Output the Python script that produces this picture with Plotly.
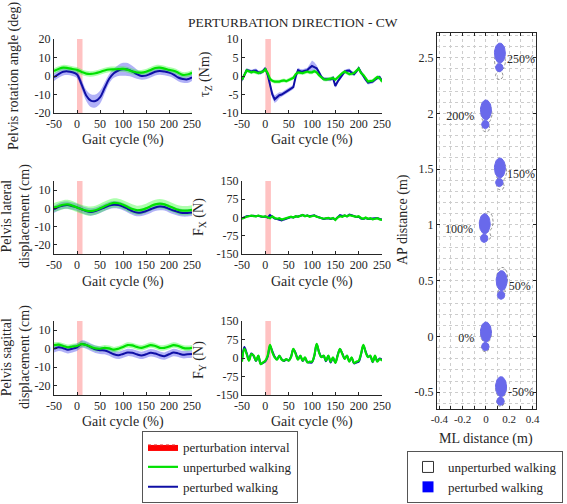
import numpy as np
import plotly.graph_objects as go

# ---------------- data ----------------
gait10 = list(range(-50, 251, 10))
gait5 = list(range(-50, 251, 5))
perturbation_interval = [0, 12]

# Pelvis rotation angle (deg)
rot_unp = [2.7, 3.8, 4.5, 4.3, 3.8, 3.3, 2.2, 1.3, 1.1, 1.5, 2.2, 3.0, 3.5, 3.6, 3.7, 3.8,
           3.3, 2.5, 1.9, 1.8, 2.3, 3.3, 4.3, 4.5, 4.0, 3.3, 2.8, 1.8, 0.6, 0.8, 1.8]
rot_unp_sd = 1.5
rot_pert = [-0.7, 1.0, 2.3, 2.5, 2.0, 0.8, -4.5, -10.5, -13.3, -13.5, -11.5, -6.5, -1.5, 1.5,
            3.0, 3.6, 3.5, 2.5, 1.0, 0.0, 0.2, 1.2, 2.3, 2.7, 2.4, 1.8, 0.8, -0.8, -1.6, -1.8, -0.7]
rot_pert_sd = [2, 2, 2, 2, 2, 2, 2.5, 3, 3.5, 3.5, 3.5, 3, 2.5, 2.5, 3, 3.5, 3.5, 3, 2.5,
               2, 2, 2, 2, 2, 2, 2, 2, 2, 2, 2, 2]

# Pelvis lateral displacement (cm)
lat_unp = [0.5, 1.2, 2.0, 2.2, 1.5, 0.5, -0.5, -1.2, -1.5, -1.0, 0.0, 1.2, 2.3, 3.0, 2.8, 2.0,
           0.8, -0.3, -1.0, -0.8, 0.0, 1.2, 2.2, 2.6, 2.2, 1.2, 0.2, -0.8, -1.2, -1.2, -0.8]
lat_unp_sd = 2.5
lat_pert = [-0.5, 0.8, 1.6, 1.8, 1.2, 0.5, -0.5, -1.5, -2.0, -1.5, -0.5, 0.5, 1.5, 2.0, 1.8, 1.0,
            -0.2, -1.5, -2.3, -2.2, -1.5, -0.5, 0.5, 1.0, 0.8, -0.2, -1.2, -2.0, -2.5, -2.5, -2.2]
lat_pert_sd = 2.0

# Pelvis sagittal displacement (cm)
sag_unp = [2.0, 2.2, 1.5, 0.8, 1.2, 1.5, 2.5, 2.0, 1.0, 0.2, 0.0, 0.5, 0.2, -0.5, 0.0, 1.0,
           2.0, 1.8, 1.0, 0.5, 1.2, 2.0, 1.5, 0.5, 0.5, 1.2, 2.0, 1.5, 0.5, 0.2, 0.5]
sag_unp_sd = 1.5
sag_pert = [0.0, 0.8, 0.3, -0.5, 0.0, 0.8, 2.5, 2.0, 0.8, -0.3, -0.8, -1.0, -1.8, -3.0, -3.5, -2.8,
            -2.0, -2.2, -3.0, -3.6, -3.0, -2.2, -2.6, -3.5, -4.0, -3.0, -2.0, -2.5, -3.2, -3.0, -2.8]
sag_pert_sd = 2.0

# Tau_Z (Nm)
tz_unp = [-1.0, 0.5, 1.5, 1.3, 1.0, 1.2, 1.0, 0.8, 1.0, 1.2,
          1.8, 0.8, -0.8, -1.3, -1.5, -1.6, -1.5, -1.3, -1.2, -1.4,
          -1.0, -0.8, -0.5, 0.5, 1.0, 0.8, 0.8, 1.0, 1.2, 1.0,
          1.0, 1.3, 1.0, 0.2, -0.5, -0.9, -1.0, -0.8, -0.8, -0.6,
          -1.0, -0.3, 0.3, 0.8, 1.2, 0.8, 0.5, 0.6, 0.8, 1.4,
          2.0, 0.8, 0.3, -0.6, -1.5, -1.4, -1.3, -0.8, -0.3, -0.6,
          -1.5]
tz_unp_sd = 0.5
tz_pert = [-1.1, 0.5, 1.6, 1.4, 1.2, 1.4, 1.5, 1.0, 0.9, 1.3,
           2.1, 0.3, -2.0, -5.0, -6.3, -5.8, -5.2, -5.0, -4.7, -4.2,
           -3.8, -3.5, -3.0, -0.2, 1.6, 1.3, 1.2, 1.4, 1.6, 2.2,
           2.7, 2.4, 2.1, 1.0, -0.2, -0.8, -0.9, -0.9, -0.9, -0.5,
           -2.7, -1.5, -0.5, 0.5, 1.2, 1.4, 1.5, 0.9, 0.5, 1.2,
           2.1, 1.0, -0.2, -1.0, -1.8, -1.6, -1.5, -1.0, -0.5, -0.3,
           -1.3]
tz_pert_sd = [0.5] * 12 + [0.8, 1.0, 1.0, 1.0, 0.8] + [0.6] * 12 + [1.0, 1.5, 1.3, 0.8] + [0.5] * 28

# F_X (N)
fx_unp = [-5, 0, 3, 5, 8, 6, 5, 8, 5, 3,
          5, 2, -3, 5, -2, -5, -3, -8, -5, -2,
          0, 3, 0, 5, 3, 8, 10, 5, 8, 3,
          5, 8, 3, 0, -3, -5, -3, -2, -5, -2,
          -10, 0, 5, 3, 8, 5, 10, 8, 5, 3,
          5, -2, -5, 0, -5, -3, -8, -5, -3, -8,
          -10]
fx_pert = [-3, 2, 5, 6, 8, 7, 5, 7, 4, 2,
           4, 0, 10, 2, -4, -6, -8, -12, -8, -4,
           -2, 2, 0, 4, 4, 8, 10, 6, 8, 5,
           6, 9, 4, 0, -3, -6, -4, -3, -6, -3,
           -8, 2, 10, 6, 8, 5, 12, 9, 4, 2,
           3, -4, -6, -2, -6, -5, -7, -4, -2, -6,
           -8]
fx_sd = 3

# F_Y (N)
fy_unp = [-15, 37, 16, -11, 16, 10, -11, 10, -25, -18,
          -11, 10, 53, 23, 3, -7, 10, -7, -11, -4,
          -11, 3, 37, 16, -7, 10, -11, 3, -18, -15,
          -15, 10, 57, 23, 3, 10, -11, 10, -15, 3,
          -20, 10, 37, 16, -4, 10, -15, 3, -20, -15,
          -11, 16, 53, 23, 3, 10, -15, 10, -15, -4,
          -11]
fy_pert = [-10, 45, 20, -8, 18, 8, -12, 8, -22, -20,
           -14, 5, 48, 28, 5, -5, 8, -5, -12, -6,
           -10, 5, 35, 20, -5, 8, -12, 0, -16, -18,
           -18, 8, 55, 25, 5, 8, -13, 8, -18, 0,
           -18, 12, 35, 18, -2, 8, -13, 0, -22, -18,
           -15, 14, 50, 26, 5, 8, -17, 6, -12, -2,
           -8]
fy_sd = 3

# Footsteps (forefoot centre, m)
step_labels = ["-50%", "0%", "50%", "100%", "150%", "200%", "250%"]
pert_ml = [0.13, 0.00, 0.135, -0.01, 0.12, 0.00, 0.12]
pert_ap = [-0.45, 0.04, 0.50, 1.01, 1.51, 2.03, 2.54]
unp_ml = [0.13, 0.00, 0.14, 0.015, 0.13, 0.005, 0.12]
unp_ap = [-0.46, 0.03, 0.53, 1.03, 1.48, 2.00, 2.47]

gait_ticks = [-50, 0, 50, 100, 150, 200, 250]
ml_ticks = [-0.4, -0.2, 0, 0.2, 0.4]
ap_ticks = [-0.5, 0, 0.5, 1, 1.5, 2, 2.5]

# ---------------- style ----------------
FONT = "Liberation Serif"
TXT = "#262626"
GREEN = "rgb(0,225,0)"
GREEN_BAND = "rgba(40,255,40,0.38)"
BLUE = "rgb(15,15,165)"
BLUE_BAND = "rgba(70,70,235,0.42)"
RED_BAND = "rgba(255,0,0,0.24)"
FOOT = "rgb(105,105,235)"
W, H = 567, 504

def px(x):
    return x / W

def py(y):
    return 1 - y / H

def lab(v):
    return ("%g" % v)

fig = go.Figure()

def add_interval(xa, ya, yr):
    p0, p1 = perturbation_interval
    fig.add_trace(go.Scatter(x=[p0, p1, p1, p0, p0], y=[yr[0], yr[0], yr[1], yr[1], yr[0]],
                             mode="lines", fill="toself", fillcolor=RED_BAND,
                             line=dict(width=0), showlegend=False, hoverinfo="skip",
                             xaxis=xa, yaxis=ya))

def add_band(x, m, sd, color, xa, ya, shape):
    m = np.asarray(m, float)
    sd = np.broadcast_to(np.asarray(sd, float), m.shape)
    fig.add_trace(go.Scatter(x=x, y=m - sd, mode="lines", line=dict(width=0, shape=shape),
                             showlegend=False, hoverinfo="skip", xaxis=xa, yaxis=ya))
    fig.add_trace(go.Scatter(x=x, y=m + sd, mode="lines", line=dict(width=0, shape=shape),
                             fill="tonexty", fillcolor=color,
                             showlegend=False, hoverinfo="skip", xaxis=xa, yaxis=ya))

panels = [
    # suffix, x, unp, unp_sd, pert, pert_sd, yrange, tickvals, shape
    ("", gait10, rot_unp, rot_unp_sd, rot_pert, rot_pert_sd, [-20, 20], [-20, -10, 0, 10, 20], "spline"),
    ("2", gait5, tz_unp, tz_unp_sd, tz_pert, tz_pert_sd, [-10, 10], [-10, -5, 0, 5, 10], "linear"),
    ("3", gait10, lat_unp, lat_unp_sd, lat_pert, lat_pert_sd, [-25, 15], [-20, -10, 0, 10], "spline"),
    ("4", gait5, fx_unp, fx_sd, fx_pert, fx_sd, [-150, 150], [-150, -75, 0, 75, 150], "linear"),
    ("5", gait10, sag_unp, sag_unp_sd, sag_pert, sag_pert_sd, [-25, 15], [-20, -10, 0, 10], "spline"),
    ("6", gait5, fy_unp, fy_sd, fy_pert, fy_sd, [-150, 150], [-150, -75, 0, 75, 150], "spline"),
]

# legend-only entry for the perturbation interval
fig.add_trace(go.Scatter(x=[None], y=[None], mode="lines", fill="toself", fillcolor="rgb(255,0,0)",
                         line=dict(color="rgb(230,60,60)", width=1, dash="dot"),
                         name="perturbation interval", legend="legend", legendrank=1))

for i, (s, x, unp, unp_sd, pert, pert_sd, yr, tv, shape) in enumerate(panels):
    xa, ya = "x" + s, "y" + s
    add_interval(xa, ya, yr)
    add_band(x, pert, pert_sd, BLUE_BAND, xa, ya, shape)
    add_band(x, unp, unp_sd, GREEN_BAND, xa, ya, shape)
    fig.add_trace(go.Scatter(x=x, y=pert, mode="lines", line=dict(color=BLUE, width=2, shape=shape),
                             name="perturbed walking", showlegend=(i == 0), legend="legend",
                             legendrank=3, xaxis=xa, yaxis=ya))
    fig.add_trace(go.Scatter(x=x, y=unp, mode="lines", line=dict(color=GREEN, width=2.2, shape=shape),
                             name="unperturbed walking", showlegend=(i == 0), legend="legend",
                             legendrank=2, xaxis=xa, yaxis=ya))

# ---------------- footsteps ----------------
FORE_RX, FORE_RY = 0.047, 0.09
HEEL_RX, HEEL_RY = 0.032, 0.037
HEEL_DY = 0.13

def foot_outline(mls, aps):
    xs, ys = [], []
    t = np.linspace(0, 2 * np.pi, 48)
    for cx, cy in zip(mls, aps):
        xs += list(cx + FORE_RX * np.cos(t)) + [None]
        ys += list(cy + FORE_RY * np.sin(t)) + [None]
        xs += list(cx - 0.005 + HEEL_RX * np.cos(t)) + [None]
        ys += list(cy - HEEL_DY + HEEL_RY * np.sin(t)) + [None]
    return xs, ys

ux, uy = foot_outline(unp_ml, unp_ap)
fig.add_trace(go.Scatter(x=ux, y=uy, mode="lines", line=dict(color="rgb(120,120,120)", width=0.8, dash="3px,2px"),
                         showlegend=False, hoverinfo="skip", xaxis="x7", yaxis="y7"))
fx_, fy_ = foot_outline(pert_ml, pert_ap)
fig.add_trace(go.Scatter(x=fx_, y=fy_, mode="lines", fill="toself", fillcolor=FOOT,
                         line=dict(color=FOOT, width=1), showlegend=False, hoverinfo="skip",
                         xaxis="x7", yaxis="y7"))

right = [m > 0.06 for m in pert_ml]
lab_x = [m + 0.06 if r else m - 0.1 for m, r in zip(pert_ml, right)]
lab_y = [a - 0.06 for a in pert_ap]
lab_pos = ["middle right" if r else "middle left" for r in right]
fig.add_trace(go.Scatter(x=lab_x, y=lab_y, mode="text", text=step_labels, textposition=lab_pos,
                         textfont=dict(family=FONT, size=12, color=TXT), showlegend=False,
                         hoverinfo="skip", xaxis="x7", yaxis="y7"))

# legend 2 entries
fig.add_trace(go.Scatter(x=[None], y=[None], mode="markers",
                         marker=dict(symbol="square-open", size=11, color="#333", line=dict(width=1)),
                         name="unperturbed walking", legend="legend2"))
fig.add_trace(go.Scatter(x=[None], y=[None], mode="markers",
                         marker=dict(symbol="square", size=11, color="rgb(0,0,255)"),
                         name="perturbed walking", legend="legend2"))

# ---------------- layout ----------------
tickfont = dict(family=FONT, size=12, color=TXT)
col_x = [[px(54), px(192)], [px(242), px(382)]]
row_y = [[py(113), py(39)], [py(254), py(181)], [py(395), py(321)]]

legend_common = dict(xanchor="left", yanchor="bottom", bgcolor="white", bordercolor="#555",
                     borderwidth=1, font=dict(family=FONT, size=13, color=TXT),
                     itemwidth=30, tracegroupgap=0, traceorder="normal")
layout = dict(
    width=W, height=H,
    margin=dict(l=0, r=0, t=0, b=0, autoexpand=False),
    paper_bgcolor="white", plot_bgcolor="white",
    font=dict(family=FONT, color=TXT),
    showlegend=True,
    legend=dict(x=px(142), y=py(503), **legend_common),
    legend2=dict(x=px(407), y=py(503), **legend_common),
)

for i, (s, x, unp, unp_sd, pert, pert_sd, yr, tv, shape) in enumerate(panels):
    r, c = divmod(i, 2)
    layout["xaxis" + s] = dict(domain=col_x[c], range=[-50, 250], tickvals=gait_ticks,
                               ticktext=[lab(v) for v in gait_ticks],
                               anchor="y" + s, showline=True, linecolor=TXT, linewidth=1,
                               ticks="inside", ticklen=3, tickcolor=TXT, showgrid=False,
                               zeroline=False, tickfont=tickfont, tickangle=0)
    layout["yaxis" + s] = dict(domain=row_y[r], range=yr, tickvals=tv, ticktext=[lab(v) for v in tv],
                               anchor="x" + s,
                               showline=True, linecolor=TXT, linewidth=1, ticks="inside",
                               ticklen=3, tickcolor=TXT, showgrid=False, zeroline=False,
                               tickfont=tickfont)

grid = "rgb(205,205,205)"
layout["xaxis7"] = dict(domain=[px(437), px(536)], range=[-0.42, 0.43],
                        tickvals=ml_ticks, ticktext=[lab(v) for v in ml_ticks], tickangle=0,
                        anchor="y7", showline=True, mirror="ticks", linecolor=TXT, linewidth=1,
                        ticks="inside", ticklen=3, tickcolor=TXT, showgrid=True, gridcolor=grid,
                        griddash="dot", zeroline=False, tickfont=dict(family=FONT, size=11, color=TXT),
                        minor=dict(dtick=0.1, tick0=0, ticks="inside", ticklen=3, tickcolor=TXT,
                                   showgrid=True, gridcolor=grid, griddash="dot"))
layout["yaxis7"] = dict(domain=[py(409), py(33)], range=[-0.65, 2.72],
                        tickvals=ap_ticks, ticktext=[lab(v) for v in ap_ticks],
                        anchor="x7", showline=True, mirror="ticks", linecolor=TXT, linewidth=1,
                        ticks="inside", ticklen=3, tickcolor=TXT, showgrid=True, gridcolor=grid,
                        griddash="dot", zeroline=False, tickfont=tickfont,
                        minor=dict(dtick=0.1, tick0=0, showgrid=True, gridcolor=grid, griddash="dot"))

def ann(text, x, y, size=14, angle=0):
    return dict(text=text, x=px(x), y=py(y), xref="paper", yref="paper", showarrow=False,
                textangle=angle, font=dict(family=FONT, size=size, color=TXT),
                xanchor="center", yanchor="middle")

annotations = [
    ann("PERTURBATION DIRECTION - CW", 293, 23, size=13.5),
    ann("Pelvis rotation angle (deg)", 14, 76, angle=-90),
    ann("Pelvis lateral<br>displacement (cm)", 16, 216, angle=-90),
    ann("Pelvis sagittal<br>displacement (cm)", 16, 357, angle=-90),
    ann("τ<sub>Z</sub> (Nm)", 205, 74, angle=-90),
    ann("F<sub>X</sub> (N)", 199, 217, angle=-90),
    ann("F<sub>Y</sub> (N)", 199, 360, angle=-90),
    ann("AP distance (m)", 403, 220, angle=-90),
    ann("ML distance (m)", 486, 439),
]
for ycen in (140, 282, 422):
    annotations.append(ann("Gait cycle (%)", 123, ycen))
    annotations.append(ann("Gait cycle (%)", 312, ycen))
layout["annotations"] = annotations

fig.update_layout(**layout)
fig.write_html("out.html", config={"displayModeBar": False},
               post_script="document.body.style.margin='0px';")
